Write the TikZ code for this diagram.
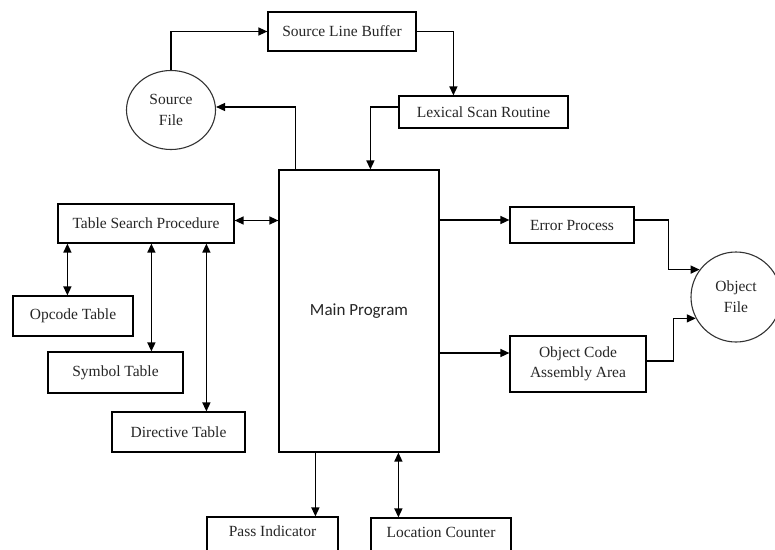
\documentclass[tikz,border=0pt]{standalone}
\usepackage{fontspec}
\setmainfont{Liberation Serif}
\newfontfamily\mainprogfont{Carlito}
\usetikzlibrary{arrows.meta,shapes.geometric}
\tikzset{
  box/.style={draw=black, line width=1.2pt, rectangle, inner sep=2pt, align=center,
    text=black!85, font=\fontsize{15.5}{20}\selectfont},
  roundnode/.style={draw=black!80, line width=1.1pt, ellipse, inner sep=0pt, align=center,
    text=black!85, font=\fontsize{15.5}{21}\selectfont},
  conn/.style={line width=1.4pt, black},
  arr/.style={conn, -{Triangle[length=9pt,width=8pt]}},
  darr/.style={conn, {Triangle[length=9pt,width=8pt]}-{Triangle[length=9pt,width=8pt]}},
}
\begin{document}
\begin{tikzpicture}[x=1pt,y=-1pt]
\clip (0,0) rectangle (775,549);
\fill[white] (0,0) rectangle (775,549);

\node[box, minimum width=148pt, minimum height=39pt] (slb) at (342,31.5) {Source Line Buffer};
\node[box, minimum width=169pt, minimum height=32pt] (lex) at (483.5,112) {Lexical Scan Routine};
\node[roundnode, minimum width=89pt, minimum height=79pt] (src) at (171,110) {Source\\File};
\node[box, minimum width=160pt, minimum height=282pt, font=\mainprogfont\fontsize{17}{20}\selectfont] (main) at (359,311) {Main Program};
\node[box, minimum width=176pt, minimum height=39pt] (tsp) at (146,223.5) {Table Search Procedure};
\node[box, minimum width=120pt, minimum height=40pt] (opc) at (73,316) {Opcode Table};
\node[box, minimum width=135pt, minimum height=41pt] (sym) at (115.5,372.5) {Symbol Table};
\node[box, minimum width=133pt, minimum height=40pt] (dir) at (178.5,432) {Directive Table};
\node[box, minimum width=124pt, minimum height=36pt] (err) at (572,225) {Error Process};
\node[box, minimum width=136pt, minimum height=56pt] (oca) at (578,364) {Object Code\\Assembly Area};
\node[roundnode, circle, minimum size=90pt] (obj) at (736,297) {Object\\File};
\node[box, minimum width=131pt, minimum height=40pt, text depth=11pt] (pass) at (272.5,537) {Pass Indicator};
\node[box, minimum width=140pt, minimum height=40pt, text depth=11pt] (loc) at (441,538) {Location Counter};

% top loop
\draw[arr] (src.north) |- (slb.west);
\draw[arr] (slb.east) -| ([xshift=55pt]lex.north west);
\draw[arr] ([yshift=5pt]lex.west) -| ([xshift=92pt]main.north west);
\draw[arr] ([xshift=17pt]main.north west) |- ([yshift=3pt]src.east);

% table search
\draw[darr] ([yshift=3pt]tsp.east) -- ([yshift=3pt]tsp.east -| main.west);
\draw[darr] ([xshift=10pt]tsp.south west) -- ([xshift=10pt]tsp.south west |- opc.north);
\draw[darr] ([xshift=94pt]tsp.south west) -- ([xshift=94pt]tsp.south west |- sym.north);
\draw[darr] ([xshift=149pt]tsp.south west) -- ([xshift=149pt]tsp.south west |- dir.north);

% right side
\draw[arr] ([yshift=5pt]err.west -| main.east) -- ([yshift=5pt]err.west);
\draw[arr] ([yshift=11pt]oca.west -| main.east) -- ([yshift=11pt]oca.west);
\draw[arr] ([yshift=5pt]err.east) -- ++(34,0) |- (obj.143);
\draw[arr] ([yshift=3pt]oca.east) -- ++(27,0) |- (obj.208);

% bottom
\draw[arr] ([xshift=37pt]main.south west) -- ([xshift=37pt]main.south west |- pass.north);
\draw[darr] ([xshift=120pt]main.south west) -- ([xshift=120pt]main.south west |- loc.north);
\end{tikzpicture}
\end{document}
